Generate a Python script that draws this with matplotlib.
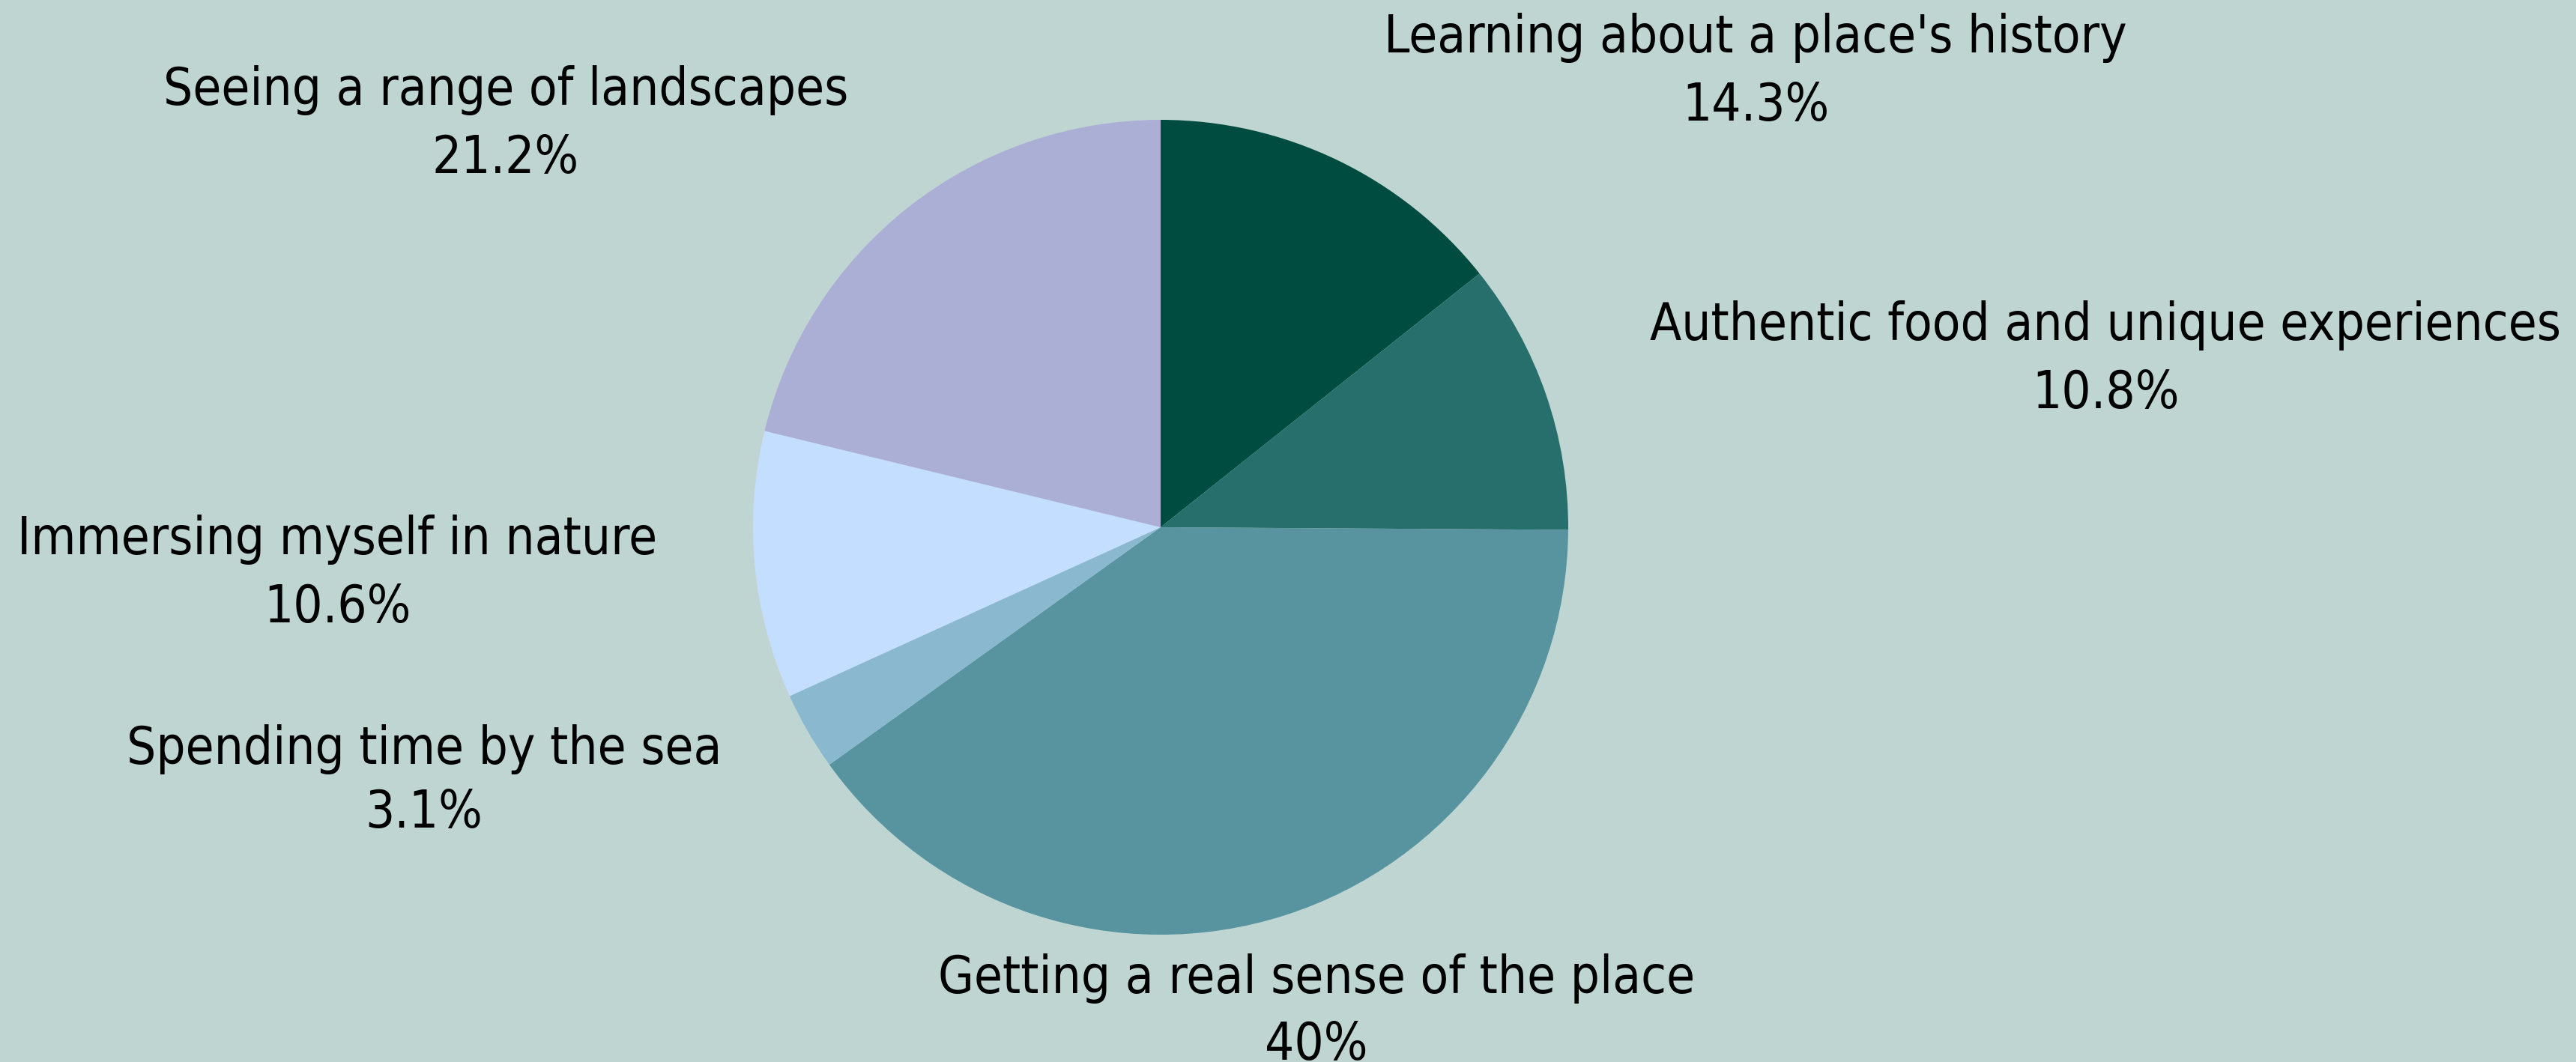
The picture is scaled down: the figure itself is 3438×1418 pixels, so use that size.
import matplotlib
matplotlib.use("Agg")
import matplotlib.pyplot as plt

# Survey shares: what matters most when travelling
categories = [
    "Learning about a place's history",
    "Authentic food and unique experiences",
    "Getting a real sense of the place",
    "Spending time by the sea",
    "Immersing myself in nature",
    "Seeing a range of landscapes",
]
shares = [14.3, 10.8, 40.0, 3.1, 10.6, 21.2]
value_labels = ["14.3%", "10.8%", "40%", "3.1%", "10.6%", "21.2%"]
colors = ["#004C41", "#276F6D", "#5894A0", "#8AB8CE", "#C4DEFF", "#ACAFD5"]

# Label anchor points (figure pixels, from top-left): name line, value line
label_x = [2343, 2810, 1757, 566, 450, 675]
label_y_name = [50, 434, 1306, 1001, 720, 120]
label_y_value = [141, 525, 1395, 1086, 812, 211]

W, H = 3438, 1418
BG = "#BFD5D2"

fig = plt.figure(figsize=(W / 100, H / 100), dpi=100, facecolor=BG)

# Square axes holding a unit-radius pie centred at (1549, 704) px, radius 544 px
cx, cy, rad = 1549, 704, 544
ax = fig.add_axes([(cx - rad) / W, (H - cy - rad) / H, 2 * rad / W, 2 * rad / H])
ax.set_facecolor(BG)
ax.pie(shares, colors=colors, startangle=90, counterclock=False,
       radius=1.0, wedgeprops=dict(linewidth=0))
ax.set_xlim(-1, 1)
ax.set_ylim(-1, 1)
ax.set_aspect("equal")
ax.axis("off")

font = dict(family="DejaVu Sans", fontstretch="condensed", fontsize=49.5,
            color="black", ha="center", va="center")
for name, val, x, yn, yv in zip(categories, value_labels, label_x,
                                label_y_name, label_y_value):
    fig.text(x / W, 1 - yn / H, name, **font)
    fig.text(x / W, 1 - yv / H, val, **font)

fig.savefig("out.png", dpi=100, facecolor=BG)
